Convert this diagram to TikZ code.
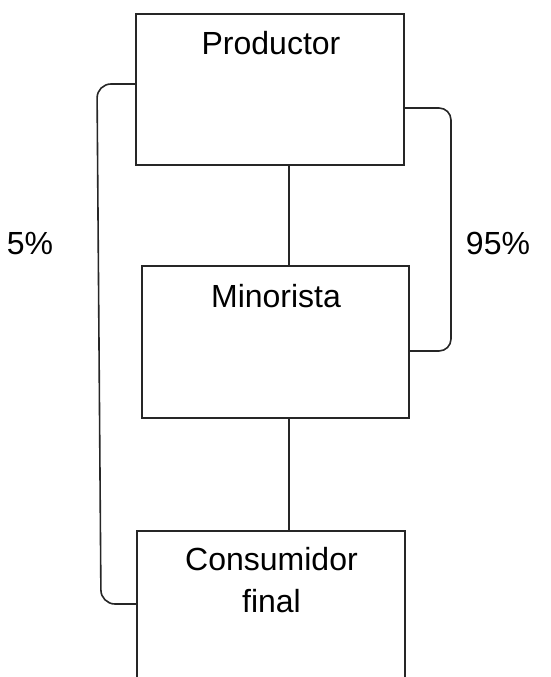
\documentclass[tikz,border=0pt]{standalone}
\usepackage{fontspec}
\setmainfont{Liberation Sans}
\begin{document}
\begin{tikzpicture}[x=1pt,y=-1pt,
  box/.style={draw=black!85,line width=1.8pt,minimum width=268pt,minimum height=151pt,inner sep=0pt},
  lbl/.style={font=\fontsize{32}{38}\selectfont,anchor=base,inner sep=0pt},
  conn/.style={draw=black!85,line width=1.6pt}]
\useasboundingbox (0,0) rectangle (550,677);
\node[box] (p) at (270,89.5) {};
\node[box,minimum width=267pt,minimum height=152pt] (m) at (275.5,342) {};
\node[box,minimum height=152pt] (c) at (271,607) {};
\node[lbl] (pt) at (271,55) {Productor};
\node[lbl] (mt) at (276,307) {Minorista};
\node[lbl] (ct) at (271.5,570) {Consumidor};
\node[lbl] (ft) at (271.5,612) {final};
\node[lbl] (l5) at (30,254) {5\%};
\node[lbl] (l95) at (498,254) {95\%};
\draw[conn] ([xshift=19pt]p.south) -- ([xshift=13.5pt]m.north);
\draw[conn] ([xshift=13.5pt]m.south) -- ([xshift=18pt]c.north);
\draw[conn,rounded corners=14pt] ([yshift=5.5pt]p.west) -- (97,84) -- (101,604) -- ([yshift=3pt]c.west);
\draw[conn,rounded corners=12pt] ([yshift=-18.5pt]p.east) -- (451,108) -- (451,351) -- ([yshift=-9pt]m.east);
\end{tikzpicture}
\end{document}
